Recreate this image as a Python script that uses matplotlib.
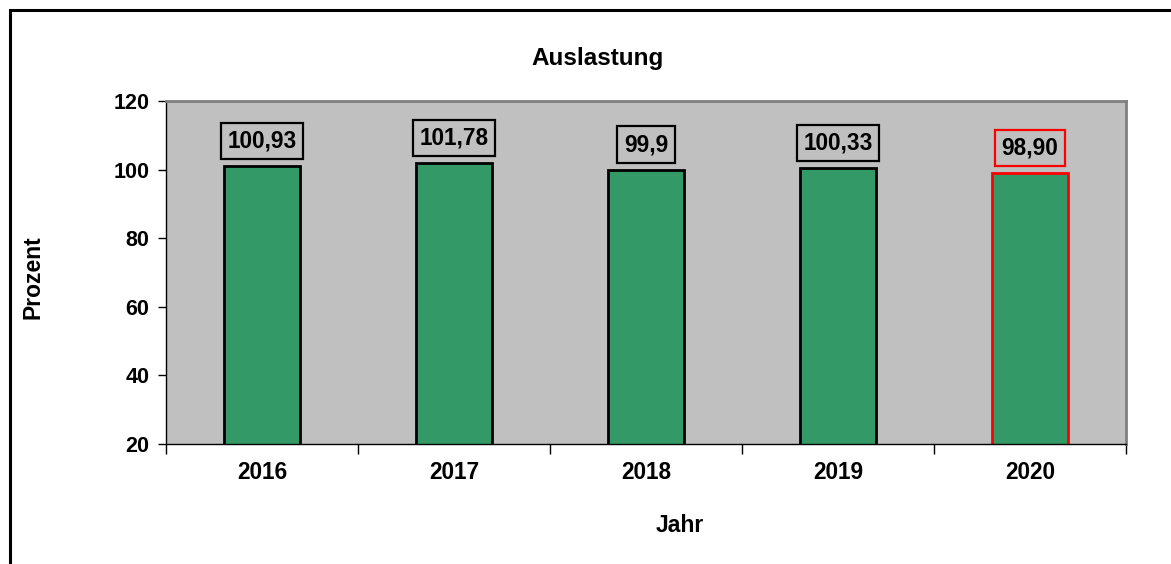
import matplotlib
matplotlib.use("Agg")
import matplotlib.pyplot as plt
from matplotlib.patches import Rectangle

plt.rcParams['font.family'] = ['Liberation Sans', 'DejaVu Sans']
plt.rcParams['font.weight'] = 'bold'

years = ['2016', '2017', '2018', '2019', '2020']
values = [100.93, 101.78, 99.9, 100.33, 98.90]
labels = ['100,93', '101,78', '99,9', '100,33', '98,90']
edge_colors = ['black', 'black', 'black', 'black', 'red']

W, H = 1171, 564
fig = plt.figure(figsize=(W / 100, H / 100), dpi=100)
ax = fig.add_axes([166 / W, 1 - 444 / H, (1126 - 166) / W, (444 - 101) / H])

# outer frame
fig.patches.append(Rectangle((10 / W, -0.1), 1.2, 1 - 10 / H + 0.1, transform=fig.transFigure,
                             fill=False, edgecolor='black', linewidth=2.2, zorder=0))

ax.set_facecolor('#c0c0c0')
x = list(range(len(years)))
ax.bar(x, values, width=0.4, color='#339966', edgecolor=edge_colors, linewidth=2, zorder=2)

for xi, v, lab, ec in zip(x, values, labels, edge_colors):
    ax.annotate(lab, (xi, v), xytext=(0, 10), textcoords='offset points', ha='center', va='bottom',
                fontsize=16.3, fontweight='bold', color='black',
                bbox=dict(boxstyle='square,pad=0.29', facecolor='#c0c0c0', edgecolor=ec, linewidth=1.6))

ax.set_ylim(20, 120)
ax.set_xlim(-0.5, len(years) - 0.5)
ax.set_yticks([20, 40, 60, 80, 100, 120])
ax.tick_params(axis='y', labelsize=15.5, length=6, width=1, direction='out', pad=6)
ax.set_xticks(x)
ax.set_xticklabels(years)
ax.tick_params(axis='x', labelsize=16.3, length=0, pad=12)
ax.set_xticks([i + 0.5 for i in range(-1, len(years))], minor=True)
ax.tick_params(axis='x', which='minor', length=7, width=1, direction='out')

for s in ['top', 'right']:
    ax.spines[s].set_color('#808080')
    ax.spines[s].set_linewidth(2)
for s in ['left', 'bottom']:
    ax.spines[s].set_color('black')
    ax.spines[s].set_linewidth(1)

fig.text(598 / W, 1 - 59 / H, 'Auslastung', ha='center', va='center', fontsize=17.5, fontweight='bold')
fig.text(680 / W, 1 - 526 / H, 'Jahr', ha='center', va='center', fontsize=16.5, fontweight='bold')
fig.text(33 / W, 1 - 277 / H, 'Prozent', ha='center', va='center', rotation=90, fontsize=16.5, fontweight='bold')

fig.savefig('out.png', dpi=100, facecolor='white')
